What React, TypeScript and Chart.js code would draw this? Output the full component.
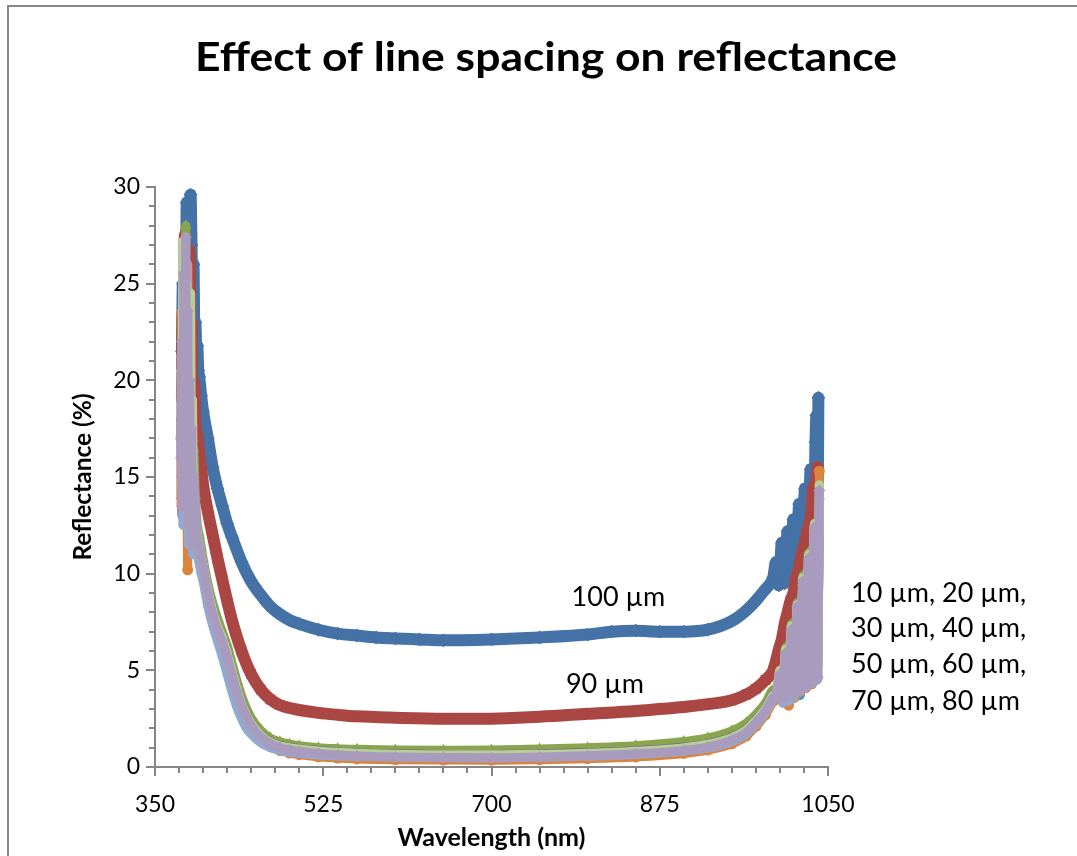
import React, { useEffect, useRef } from 'react';
import { Chart, registerables } from 'chart.js';

Chart.register(...registerables);

// ---------- Data (wavelength in nm, reflectance in %) ----------
const SERIES_LABELS = ['100 µm', '90 µm', '80 µm', '70 µm', '60 µm', '50 µm', '40 µm', '30 µm', '20 µm', '10 µm'];

const WL_100 = [378, 379, 380, 381, 382, 383, 384, 385, 386, 387, 388, 389, 390, 391, 392, 393, 394, 395, 396, 398,
  400, 405, 410, 415, 420, 425, 430, 440, 450, 460, 470, 480, 490, 500, 520, 540, 560, 580, 600, 625, 650,
  700, 750, 800, 825, 850, 875, 900, 925, 950, 965, 975, 985,
  990, 993, 996, 999, 1002, 1005, 1008, 1011, 1014, 1017, 1020, 1023, 1026, 1029, 1032, 1035, 1037, 1038, 1039, 1040];
const R_100 = [21.5, 25, 23, 27, 24.5, 29.2, 26, 28.7, 25.5, 29.6, 27, 24, 26, 22.4, 23, 21.5, 21.8, 20.5, 20.2, 19.2,
  18.4, 17, 15.5, 14.4, 13.5, 12.6, 11.9, 10.6, 9.6, 8.9, 8.3, 7.9, 7.6, 7.4, 7.1, 6.9, 6.8, 6.7, 6.65, 6.6, 6.55,
  6.6, 6.7, 6.85, 7.0, 7.05, 7.0, 7.0, 7.1, 7.55, 8.1, 8.6, 9.2,
  9.5, 9.8, 10.6, 9.4, 11.6, 9.5, 12.2, 9.6, 12.8, 9.8, 13.6, 10.2, 14.4, 10.8, 15.4, 11.5, 16.8, 18.2, 12.5, 19.1];

const WL_90 = [378, 379, 380, 381, 382, 383, 384, 385, 386, 387, 388, 389, 390, 391, 392, 394, 396, 398,
  400, 405, 410, 415, 420, 425, 430, 440, 450, 460, 470, 480, 490, 500,
  520, 540, 560, 600, 650, 700, 750, 800, 850, 875, 900, 925, 950, 965, 975, 985, 993,
  996, 999, 1002, 1005, 1008, 1011, 1014, 1017, 1020, 1023, 1026, 1029, 1032, 1035, 1037, 1039];
const R_90 = [19, 23.5, 21, 27.5, 24, 26.5, 22, 25, 26.7, 21.5, 23, 19.5, 18.5, 19.8, 17.8, 17.2, 16.2, 15.5,
  14.6, 13.2, 12.0, 10.8, 9.7, 8.6, 7.6, 6.0, 4.8, 4.0, 3.5, 3.2, 3.05, 2.95,
  2.8, 2.7, 2.62, 2.55, 2.5, 2.5, 2.6, 2.75, 2.9, 3.0, 3.1, 3.25, 3.45, 3.75, 4.05, 4.5, 5.0,
  5.5, 6.1, 6.6, 7.4, 8.0, 8.6, 9.0, 9.8, 10.3, 11.1, 11.6, 12.3, 12.9, 14.5, 14.0, 15.5];

// Lower group (10–80 µm): shared wavelength grids, own reflectance values
const LEFT_WL = [377, 378, 379, 380, 381, 382, 383, 384, 385, 386, 387, 388, 389, 390, 392, 394, 396, 398];
const MID_WL = [400, 405, 410, 415, 420, 425, 430, 435, 440, 445, 450, 460, 470, 480, 490, 500, 520, 540, 560,
  600, 650, 700, 750, 800, 850, 900, 925, 950, 965, 975, 985, 993];
const RIGHT_WL = [997, 1000, 1003, 1006, 1009, 1012, 1015, 1018, 1021, 1024, 1027, 1030, 1033, 1036, 1039, 1041];

const L_80 = [14, 19.5, 24, 17, 21.5, 28.0, 18.5, 23, 15.5, 20.5, 13, 18, 14.5, 16.5, 14, 12.5, 12, 11.4];
const M_80 = [10.8, 9.5, 8.5, 7.7, 7.0, 6.3, 5.4, 4.5, 3.7, 3.05, 2.55, 1.9, 1.5, 1.3, 1.18, 1.1, 1.0, 0.95, 0.92,
  0.88, 0.87, 0.88, 0.93, 1.0, 1.1, 1.32, 1.5, 1.87, 2.27, 2.72, 3.32, 4.0];
const Q_80 = [4.1, 5.0, 3.8, 6.2, 4.0, 7.4, 4.1, 8.5, 4.3, 9.9, 4.5, 11.1, 4.7, 12.6, 5.0, 14.0];

const L_70 = [18, 13, 21.5, 16, 24, 19, 26.5, 15, 22, 13, 19.5, 12, 16, 12.8, 12.4, 11.9, 11.4, 10.9];
const M_70 = [10.5, 9.2, 8.1, 7.3, 6.7, 5.9, 5.0, 4.1, 3.35, 2.75, 2.25, 1.65, 1.3, 1.12, 1.02, 0.95, 0.85, 0.78, 0.73,
  0.68, 0.65, 0.65, 0.68, 0.74, 0.84, 1.02, 1.2, 1.55, 1.95, 2.45, 3.05, 3.75];
const Q_70 = [4.0, 4.9, 3.7, 6.0, 3.9, 7.2, 4.0, 8.4, 4.2, 9.7, 4.4, 11.0, 4.6, 12.5, 4.9, 13.8];

const L_60 = [19, 14.5, 23, 17.5, 26.2, 20, 16.5, 24, 14, 21.5, 16.5, 13.5, 17, 12.5, 13.2, 12.0, 11.3, 10.8];
const M_60 = [10.3, 9.1, 8.0, 7.2, 6.6, 5.8, 4.9, 4.0, 3.25, 2.65, 2.2, 1.6, 1.25, 1.07, 0.97, 0.9, 0.8, 0.73, 0.68,
  0.63, 0.6, 0.6, 0.63, 0.68, 0.78, 0.96, 1.14, 1.5, 1.9, 2.4, 3.0, 3.7];
const Q_60 = [3.9, 4.8, 3.6, 5.9, 3.8, 7.1, 3.9, 8.3, 3.7, 9.6, 4.2, 10.8, 4.4, 12.3, 4.7, 13.6];

const L_50 = [17, 23.5, 15, 26, 19, 24.5, 16, 10.2, 21, 14.5, 18, 12.5, 15.5, 11.8, 13, 11.6, 11.2, 10.7];
const M_50 = [10.2, 8.9, 7.8, 7.0, 6.4, 5.6, 4.7, 3.8, 3.1, 2.5, 2.05, 1.45, 1.05, 0.85, 0.72, 0.64, 0.53, 0.46, 0.42,
  0.38, 0.36, 0.35, 0.38, 0.43, 0.52, 0.7, 0.88, 1.2, 1.6, 2.1, 2.7, 3.4];
const Q_50 = [3.7, 4.6, 3.4, 5.7, 3.2, 6.9, 3.6, 8.1, 3.9, 9.4, 4.1, 10.6, 4.3, 12.2, 4.6, 15.3];

const L_40 = [15, 20, 12.5, 22.5, 16.5, 25, 13.5, 19, 11.5, 17, 12.5, 15, 11, 13.5, 11.8, 11.0, 10.5, 10.0];
const M_40 = [9.6, 8.3, 7.3, 6.5, 5.7, 4.8, 3.9, 3.1, 2.5, 2.0, 1.7, 1.25, 1.0, 0.85, 0.76, 0.7, 0.62, 0.57, 0.54,
  0.5, 0.48, 0.48, 0.5, 0.55, 0.64, 0.82, 0.98, 1.3, 1.7, 2.2, 2.8, 3.5];
const Q_40 = [3.8, 4.7, 3.3, 5.8, 3.4, 7.0, 3.6, 8.1, 3.9, 9.5, 4.1, 10.7, 4.3, 12.2, 4.5, 13.5];

const L_30 = [13.5, 21, 17, 24.5, 14.5, 22.5, 18, 26, 16, 19, 13.5, 16.5, 12.5, 14.2, 12.6, 11.8, 11.2, 10.8];
const M_30 = [10.4, 9.1, 8.0, 7.2, 6.6, 5.8, 4.9, 4.0, 3.3, 2.7, 2.2, 1.6, 1.25, 1.06, 0.96, 0.88, 0.78, 0.71, 0.66,
  0.6, 0.57, 0.57, 0.6, 0.65, 0.75, 0.93, 1.1, 1.45, 1.85, 2.35, 2.95, 3.65];
const Q_30 = [3.9, 4.9, 3.6, 6.0, 3.8, 7.2, 3.9, 8.3, 4.1, 9.7, 4.3, 10.9, 4.5, 12.5, 4.8, 13.9];

const L_20 = [20.5, 16, 27.2, 19.5, 23, 17.5, 25, 20, 22.5, 15.5, 24.5, 14.5, 19, 13, 12.8, 12.1, 11.5, 11.0];
const M_20 = [10.5, 9.2, 8.1, 7.3, 6.7, 5.9, 5.0, 4.1, 3.3, 2.7, 2.25, 1.65, 1.28, 1.1, 1.0, 0.93, 0.83, 0.76, 0.71,
  0.66, 0.63, 0.63, 0.66, 0.71, 0.81, 1.0, 1.18, 1.52, 1.92, 2.42, 3.02, 3.72];
const Q_20 = [4.0, 5.0, 3.7, 6.1, 3.9, 7.3, 4.0, 8.4, 4.3, 9.8, 4.5, 11.0, 4.6, 12.6, 4.9, 14.6];

const L_10 = [16, 22, 13.5, 25.5, 18, 27.4, 15, 23.6, 12.5, 20, 14, 17.5, 11.5, 15, 13.5, 11.8, 11.5, 10.9];
const M_10 = [10.4, 9.0, 7.9, 7.1, 6.5, 5.7, 4.8, 3.9, 3.2, 2.6, 2.15, 1.55, 1.2, 1.0, 0.88, 0.8, 0.7, 0.62, 0.57,
  0.52, 0.49, 0.48, 0.52, 0.58, 0.68, 0.86, 1.03, 1.4, 1.8, 2.3, 2.9, 3.6];
const Q_10 = [3.9, 4.8, 3.5, 5.9, 3.7, 7.1, 3.8, 8.3, 4.0, 9.6, 4.2, 10.8, 4.4, 12.4, 4.7, 14.3];

// Axis ticks
const X_TICKS = [350, 525, 700, 875, 1050];
const Y_TICKS = [0, 5, 10, 15, 20, 25, 30];

// Texts
const TITLE = 'Effect of line spacing on reflectance';
const X_TITLE = 'Wavelength (nm)';
const Y_TITLE = 'Reflectance (%)';
const NOTE_100 = { text: '100 µm', x: 832, y: 8.8 };
const NOTE_90 = { text: '90 µm', x: 818, y: 4.3 };
const NOTE_LINES = ['10 µm, 20 µm,', '30 µm, 40 µm,', '50 µm, 60 µm,', '70 µm, 80 µm'];
const NOTE_LINES_Y = [9.0, 7.2, 5.3, 3.4];

const COLORS = ['#4572A7', '#AA4643', '#89A54E', '#71588F', '#4198AF', '#DB843D', '#93A9CF', '#D19392', '#B9CD96', '#A99BBD'];
const MARKERS = ['rectRot', 'rect', 'triangle', 'crossRot', 'star', 'circle', 'cross', 'line', 'line', 'rectRot'];

const join = (a: number[], b: number[], c: number[]) => a.concat(b, c);

export default function App() {
  const ref = useRef<HTMLCanvasElement>(null);

  useEffect(() => {
    document.documentElement.style.overflow = 'hidden';
    document.body.style.overflow = 'hidden';
    const canvas = ref.current;
    if (!canvas) return;

    const lowX = join(LEFT_WL, MID_WL, RIGHT_WL);
    const seriesX: number[][] = [WL_100, WL_90, lowX, lowX, lowX, lowX, lowX, lowX, lowX, lowX];
    const seriesY: number[][] = [
      R_100, R_90,
      join(L_80, M_80, Q_80), join(L_70, M_70, Q_70), join(L_60, M_60, Q_60), join(L_50, M_50, Q_50),
      join(L_40, M_40, Q_40), join(L_30, M_30, Q_30), join(L_20, M_20, Q_20), join(L_10, M_10, Q_10),
    ];

    const datasets = SERIES_LABELS.map((label, i) => {
      const big = i < 2;
      return {
        label,
        data: seriesX[i].map((x, k) => ({ x, y: seriesY[i][k] })),
        showLine: true,
        borderColor: COLORS[i],
        backgroundColor: COLORS[i],
        borderWidth: big ? 12 : 9,
        borderJoinStyle: 'round' as const,
        borderCapStyle: 'round' as const,
        cubicInterpolationMode: 'monotone' as const,
        pointStyle: MARKERS[i] as any,
        pointRadius: big ? 5.5 : 4.5,
        pointBorderWidth: 2,
        pointBorderColor: COLORS[i],
        pointBackgroundColor: COLORS[i],
        order: 10 - i,
        clip: false as any,
      };
    });

    const decor = {
      id: 'decor',
      afterDraw(chart: any) {
        const { ctx, chartArea } = chart;
        const xs = chart.scales.x;
        const ys = chart.scales.y;
        ctx.save();
        // tick marks
        ctx.strokeStyle = '#868686';
        ctx.lineWidth = 2;
        ctx.beginPath();
        for (let v = 350; v <= 1050; v += 25) {
          const px = Math.round(xs.getPixelForValue(v));
          const major = (v - 350) % 175 === 0;
          ctx.moveTo(px, chartArea.bottom);
          ctx.lineTo(px, chartArea.bottom + (major ? 9 : 6));
        }
        for (let v = 0; v <= 30; v += 1) {
          const py = Math.round(ys.getPixelForValue(v));
          const major = v % 5 === 0;
          ctx.moveTo(chartArea.left, py);
          ctx.lineTo(chartArea.left - (major ? 9 : 6), py);
        }
        ctx.stroke();

        // chart title (Calibri-like proportions: slightly widened)
        ctx.fillStyle = '#000';
        ctx.font = 'bold 40.5px Lato';
        ctx.textAlign = 'center';
        ctx.textBaseline = 'alphabetic';
        const w = ctx.measureText(TITLE).width;
        ctx.save();
        ctx.translate(546, 71);
        ctx.scale(702 / w, 1);
        ctx.fillText(TITLE, 0, 0);
        ctx.restore();

        // annotations
        ctx.font = '27px Lato';
        ctx.textAlign = 'center';
        ctx.textBaseline = 'middle';
        ctx.fillText(NOTE_100.text, xs.getPixelForValue(NOTE_100.x), ys.getPixelForValue(NOTE_100.y));
        ctx.fillText(NOTE_90.text, xs.getPixelForValue(NOTE_90.x), ys.getPixelForValue(NOTE_90.y));
        ctx.textAlign = 'left';
        NOTE_LINES.forEach((t, i) => {
          ctx.fillText(t, chartArea.right + 23, ys.getPixelForValue(NOTE_LINES_Y[i]));
        });
        ctx.restore();
      },
    };

    const chart = new Chart(canvas, {
      type: 'scatter',
      data: { datasets: datasets as any },
      options: {
        responsive: false,
        animation: false,
        events: [],
        layout: { padding: { left: 0, right: 264, top: 187, bottom: 0 } },
        plugins: {
          legend: { display: false },
          tooltip: { enabled: false },
          title: { display: false },
        },
        scales: {
          x: {
            type: 'linear',
            min: 350,
            max: 1050,
            afterBuildTicks: (scale: any) => { scale.ticks = X_TICKS.map((v) => ({ value: v })); },
            afterFit: (scale: any) => { scale.height = 89; },
            grid: { display: false, drawTicks: false },
            border: { display: true, color: '#868686', width: 2 },
            ticks: {
              color: '#000', font: { family: 'Lato', size: 23 }, padding: 24, maxRotation: 0, autoSkip: false,
              callback: (v: any) => String(v),
            },
            title: { display: true, text: X_TITLE, color: '#000', font: { family: 'Lato', size: 25, weight: 'bold' }, padding: { top: 0, bottom: 3 } },
          },
          y: {
            type: 'linear',
            min: 0,
            max: 30,
            afterBuildTicks: (scale: any) => { scale.ticks = Y_TICKS.map((v) => ({ value: v })); },
            afterFit: (scale: any) => { scale.width = 155; },
            grid: { display: false, drawTicks: false },
            border: { display: true, color: '#868686', width: 2 },
            ticks: { color: '#000', font: { family: 'Lato', size: 23 }, padding: 15, autoSkip: false, callback: (v: any) => String(v) },
            title: { display: true, text: Y_TITLE, color: '#000', font: { family: 'Lato', size: 24.5, weight: 'bold' }, padding: { top: 68, bottom: 0 } },
          },
        },
      },
      plugins: [decor],
    });

    return () => chart.destroy();
  }, []);

  return (
    <div style={{ position: 'fixed', left: 0, top: 0, width: 1077, height: 856, overflow: 'hidden', background: '#fff' }}>
      <div style={{ position: 'absolute', left: 7, top: 5, width: 1200, height: 1000, borderLeft: '2px solid #878787', borderTop: '2px solid #878787', boxSizing: 'border-box' }} />
      <canvas ref={ref} width={1092} height={856} style={{ position: 'absolute', left: 0, top: 0, width: 1092, height: 856 }} />
    </div>
  );
}
